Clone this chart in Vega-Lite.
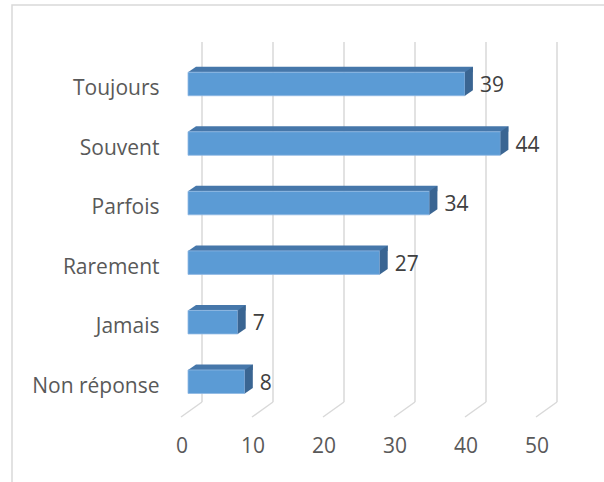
{
  "$schema": "https://vega.github.io/schema/vega-lite/v6.json",
  "width": 600,
  "height": 490,
  "autosize": {"type": "none"},
  "padding": {"left": 12, "top": 5, "right": 0, "bottom": 0},
  "background": "white",
  "config": {
    "view": {"stroke": "#d9d9d9", "strokeWidth": 1.5},
    "font": "Open Sans",
    "axis": {
      "domain": false, "ticks": false, "tickSize": 0, "grid": false, "labelPadding": 0,
      "labelFontSize": 21, "labelColor": "#595959", "labelFont": "Open Sans",
      "labelFlush": false, "labelBound": false, "labelOverlap": false
    }
  },
  "data": {
    "values": [
      {"cat": "Toujours", "v": 39},
      {"cat": "Souvent", "v": 44},
      {"cat": "Parfois", "v": 34},
      {"cat": "Rarement", "v": 27},
      {"cat": "Jamais", "v": 7},
      {"cat": "Non réponse", "v": 8}
    ]
  },
  "layer": [
    {
      "data": {"values": [{"t": 0}, {"t": 10}, {"t": 20}, {"t": 30}, {"t": 40}, {"t": 50}]},
      "mark": {"type": "rule", "color": "#d9d9d9", "strokeWidth": 1.5, "xOffset": 14, "yOffset": 37, "y2Offset": -93},
      "encoding": {
        "x": {"field": "t", "type": "quantitative", "scale": {"domain": [0, 50], "range": [176, 531]}, "axis": {"title": null}},
        "y": {"value": 0},
        "y2": {"value": "height"}
      }
    },
    {
      "data": {"values": [{"t": 0}, {"t": 10}, {"t": 20}, {"t": 30}, {"t": 40}, {"t": 50}]},
      "mark": {"type": "rule", "color": "#d9d9d9", "strokeWidth": 1.5, "xOffset": -7, "x2Offset": 14, "yOffset": -78, "y2Offset": -93},
      "encoding": {
        "x": {"field": "t", "type": "quantitative", "scale": {"domain": [0, 50], "range": [176, 531]}, "axis": {"title": null}},
        "x2": {"field": "t"},
        "y": {"value": "height"},
        "y2": {"value": "height"}
      }
    },
    {
      "mark": {"type": "bar", "height": 5.5, "yOffset": -14.5, "xOffset": 8, "x2Offset": 8, "color": "#4677aa"},
      "encoding": {
        "x": {"field": "v", "type": "quantitative", "scale": {"domain": [0, 50], "range": [176, 531]}, "axis": {"title": null}},
        "x2": {"datum": 0},
        "y": {"field": "cat", "type": "nominal", "sort": null, "scale": {"range": [49.2, 406.5], "paddingInner": 0, "paddingOuter": 0}, "axis": {"title": null}}
      }
    },
    {
      "mark": {"type": "point", "shape": "M0,-1L0.681,-1.468L0.681,-1Z", "size": 552.25, "filled": true, "opacity": 1, "color": "#4677aa", "strokeWidth": 0},
      "encoding": {
        "x": {"datum": 0, "type": "quantitative", "scale": {"domain": [0, 50], "range": [176, 531]}, "axis": {"title": null}},
        "y": {"field": "cat", "type": "nominal", "sort": null, "axis": {"title": null}}
      }
    },
    {
      "mark": {"type": "bar", "height": 23.5, "color": "#5b9bd5", "stroke": "#8fb8e3", "strokeWidth": 0.8},
      "encoding": {
        "x": {
          "field": "v", "type": "quantitative",
          "scale": {"domain": [0, 50], "range": [176, 531]},
          "axis": {
            "values": [0, 10, 20, 30, 40, 50], "title": null,
            "offset": -49, "labelBaseline": "middle", "labelOffset": -6.5
          }
        },
        "y": {
          "field": "cat", "type": "nominal", "sort": null,
          "axis": {
            "title": null, "offset": -147, "labelAlign": "right", "labelBaseline": "middle", "labelOffset": 5
          }
        }
      }
    },
    {
      "mark": {"type": "point", "shape": "M0,-1L0.681,-1.468L0.681,0.532L0,1Z", "size": 552.25, "filled": true, "opacity": 1, "color": "#3a6592", "strokeWidth": 0},
      "encoding": {
        "x": {"field": "v", "type": "quantitative", "scale": {"domain": [0, 50], "range": [176, 531]}, "axis": {"title": null}},
        "y": {"field": "cat", "type": "nominal", "sort": null, "axis": {"title": null}}
      }
    },
    {
      "mark": {"type": "text", "align": "left", "baseline": "middle", "dx": 15, "dy": 2, "fontSize": 21, "color": "#404040", "font": "Open Sans"},
      "encoding": {
        "x": {"field": "v", "type": "quantitative", "scale": {"domain": [0, 50], "range": [176, 531]}, "axis": {"title": null}},
        "y": {"field": "cat", "type": "nominal", "sort": null, "axis": {"title": null}},
        "text": {"field": "v", "type": "quantitative"}
      }
    }
  ]
}
